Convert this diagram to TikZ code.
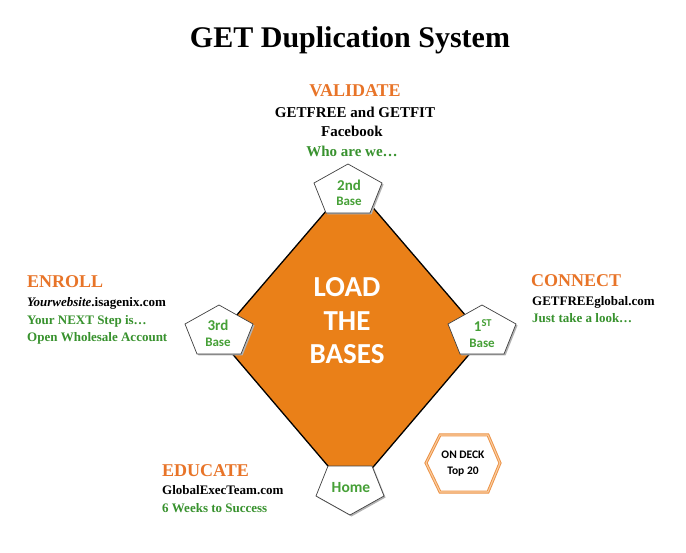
\documentclass[tikz,border=0pt]{standalone}
\usepackage{fontspec}
\setmainfont{Liberation Serif}
\newfontfamily\calib{Carlito}
\definecolor{dorange}{RGB}{234,128,24}
\definecolor{torange}{RGB}{232,116,40}
\definecolor{tgreen}{RGB}{56,146,46}
\definecolor{bgreen}{RGB}{70,160,55}
\definecolor{hexout}{RGB}{236,146,70}
\definecolor{hexin}{RGB}{250,205,160}
\begin{document}
\begin{tikzpicture}[x=1pt,y=-1pt,
  head/.style={font=\fontsize{18}{20}\selectfont\bfseries, text=torange, inner sep=0pt},
  topsub/.style={font=\fontsize{15}{17}\selectfont\bfseries, inner sep=0pt},
  sub/.style={font=\fontsize{13}{15}\selectfont\bfseries, inner sep=0pt},
  pent/.style={draw=black!75, fill=white, line width=0.7pt},
  pshadow/.style={fill=black!30, draw=none},
  numlbl/.style={font=\calib\bfseries\fontsize{15}{17}\selectfont, text=bgreen, inner sep=0pt},
  baselbl/.style={font=\calib\bfseries\fontsize{13}{15}\selectfont, text=bgreen, inner sep=0pt},
  loadlbl/.style={font=\calib\bfseries\fontsize{29}{33}\selectfont, text=white, inner sep=0pt},
  decklbl/.style={font=\calib\bfseries\fontsize{11.5}{13}\selectfont, inner sep=0pt}]
\useasboundingbox (0,0) rectangle (686,553);
\fill[white] (0,0) rectangle (686,553);

% title
\node[anchor=base, font=\fontsize{30}{34}\selectfont\bfseries, inner sep=0pt] (title) at (350,48) {GET Duplication System};

% diamond
\draw[fill=dorange, draw=black, line width=1.3pt, line join=miter]
  (351,182) -- (484,337) -- (351,493) -- (218,337) -- cycle;

% LOAD THE BASES
\node[loadlbl, anchor=base] (load) at (347,297) {LOAD};
\node[loadlbl, anchor=base] (the) at (347,331) {THE};
\node[loadlbl, anchor=base] (bases) at (347,364) {BASES};

% pentagons (point up)
\foreach \cx/\cy in {348/190, 219/331, 482/331}{
  \fill[pshadow] ({\cx+1.5},{\cy+1.5}) +(0,-26) -- +(34,-7) -- +(22,23) -- +(-22,23) -- +(-34,-7) -- cycle;
  \draw[pent] (\cx,\cy) +(0,-26) -- +(34,-7) -- +(22,23) -- +(-22,23) -- +(-34,-7) -- cycle;
}
% home pentagon (point down)
\fill[pshadow] (351.5,490.5) +(0,26) -- +(34,7) -- +(22,-23) -- +(-22,-23) -- +(-34,7) -- cycle;
\draw[pent] (350,489) +(0,26) -- +(34,7) -- +(22,-23) -- +(-22,-23) -- +(-34,7) -- cycle;

% base labels
\node[numlbl, anchor=base] (n2) at (349,191) {2nd};
\node[baselbl, anchor=base] (b2) at (349,206) {Base};
\node[numlbl, anchor=base] (n3) at (218,331) {3rd};
\node[baselbl, anchor=base] (b3) at (218,347) {Base};
\node[numlbl, anchor=base] (n1) at (483,332) {1\textsuperscript{ST}};
\node[baselbl, anchor=base] (b1) at (482,348) {Base};
\node[numlbl, anchor=base, font=\calib\bfseries\fontsize{15.5}{17}\selectfont] (home) at (351,493) {Home};

% ON DECK hexagon
\draw[hexout, line width=3pt, line join=miter]
  (426,463) -- (440,435) -- (488,435) -- (500,463) -- (488,492) -- (440,492) -- cycle;
\draw[hexin, line width=1.1pt, line join=miter]
  (426,463) -- (440,435) -- (488,435) -- (500,463) -- (488,492) -- (440,492) -- cycle;
\node[decklbl, anchor=base] (deck1) at (463,459) {ON DECK};
\node[decklbl, anchor=base] (deck2) at (463,475) {Top 20};

% VALIDATE block
\node[head, anchor=base] (validate) at (355,97) {VALIDATE};
\node[topsub, anchor=base] (v1) at (355,118) {GETFREE and GETFIT};
\node[topsub, anchor=base] (v2) at (352,137) {Facebook};
\node[topsub, anchor=base, text=tgreen] (v3) at (352,157) {Who are we…};

% ENROLL block
\node[head, anchor=base west] (enroll) at (27,288) {ENROLL};
\node[sub, anchor=base west] (e1) at (27,307) {\textit{Yourwebsite}.isagenix.com};
\node[sub, anchor=base west, text=tgreen] (e2) at (27,325) {Your NEXT Step is…};
\node[sub, anchor=base west, text=tgreen] (e3) at (27,342) {Open Wholesale Account};

% CONNECT block
\node[head, anchor=base west] (connect) at (531,287) {CONNECT};
\node[sub, anchor=base west] (c1) at (532,306) {GETFREEglobal.com};
\node[sub, anchor=base west, text=tgreen] (c2) at (532,323) {Just take a look…};

% EDUCATE block
\node[head, anchor=base west] (educate) at (162,476) {EDUCATE};
\node[sub, anchor=base west] (d1) at (162,494) {GlobalExecTeam.com};
\node[sub, anchor=base west, text=tgreen] (d2) at (162,512) {6 Weeks to Success};
\end{tikzpicture}
\end{document}
